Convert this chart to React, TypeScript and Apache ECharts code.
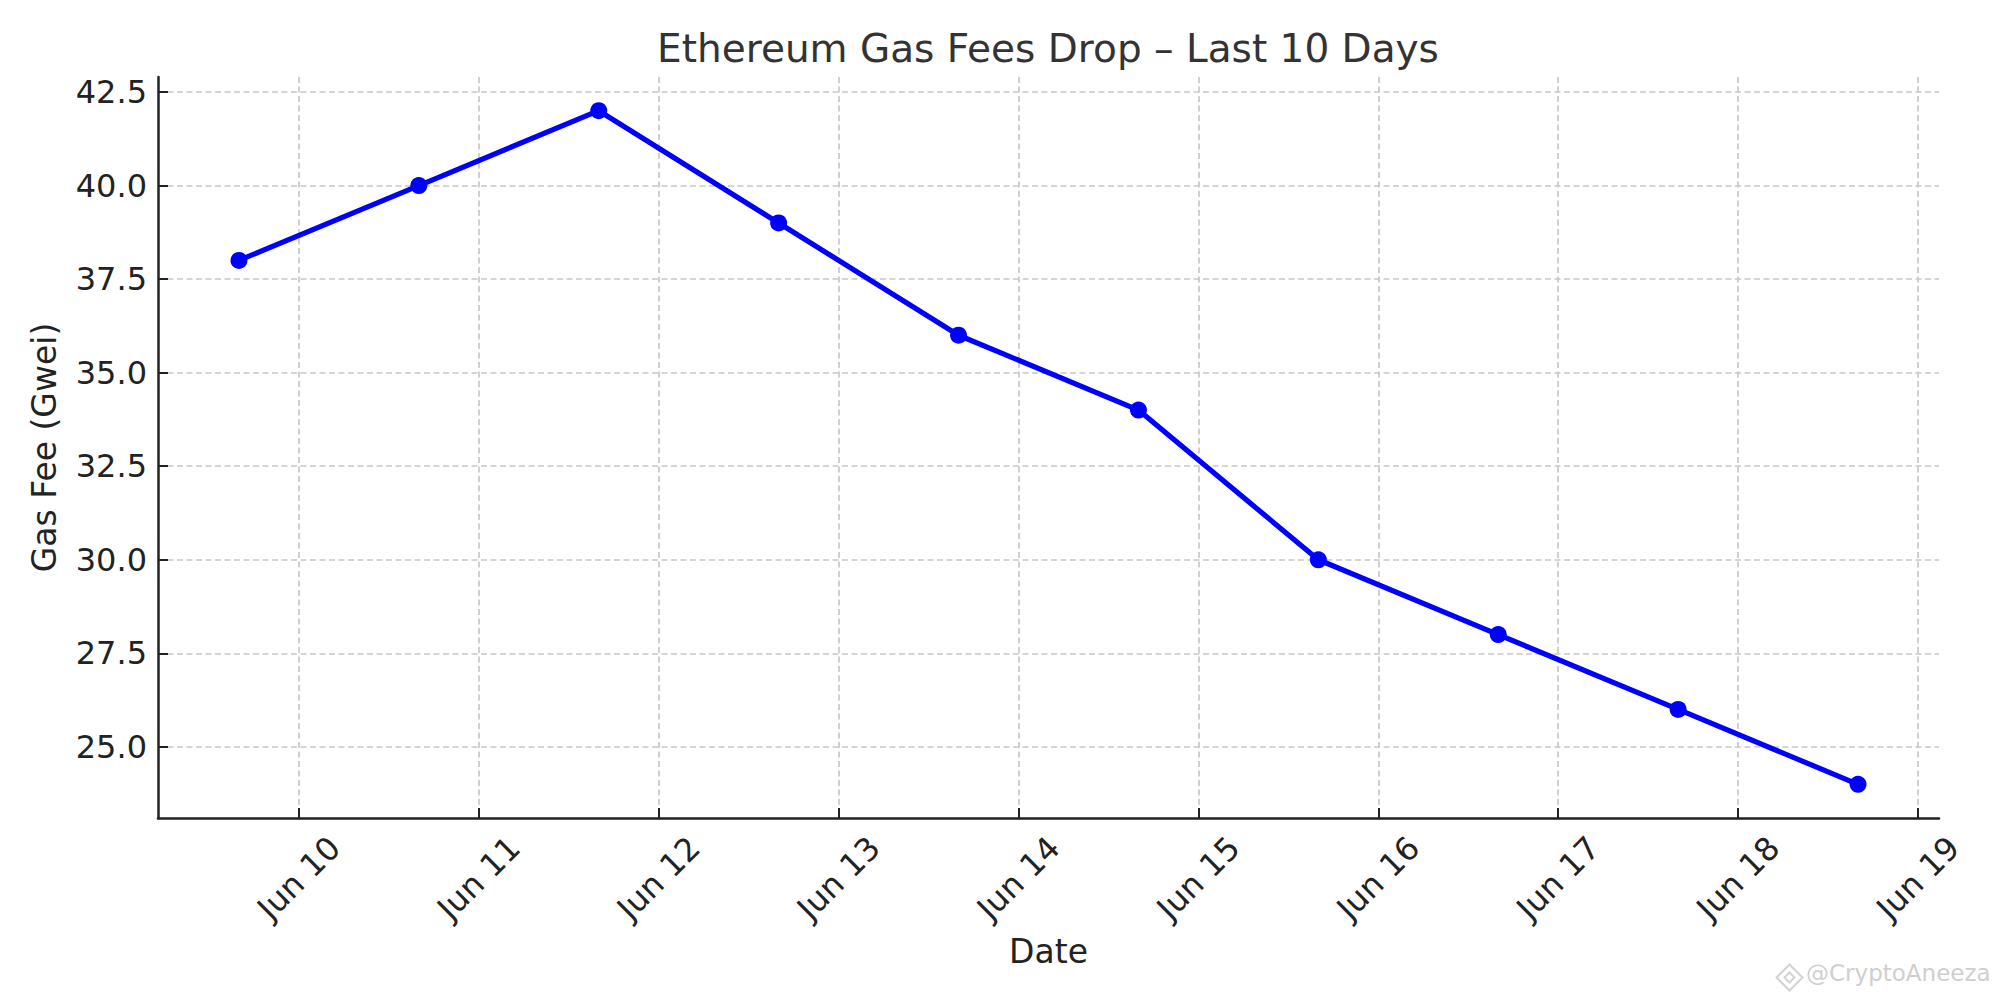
import React, { useEffect, useRef } from "react";
import * as echarts from "echarts";

const titleText = "Ethereum Gas Fees Drop – Last 10 Days";
const xAxisName = "Date";
const yAxisName = "Gas Fee (Gwei)";
const watermarkText = "@CryptoAneeza";

const dates = [
  "2025-06-09T16:00",
  "2025-06-10T16:00",
  "2025-06-11T16:00",
  "2025-06-12T16:00",
  "2025-06-13T16:00",
  "2025-06-14T16:00",
  "2025-06-15T16:00",
  "2025-06-16T16:00",
  "2025-06-17T16:00",
  "2025-06-18T16:00",
];
const gasFees = [38, 40, 42, 39, 36, 34, 30, 28, 26, 24];

const xTickDates = [
  "2025-06-10",
  "2025-06-11",
  "2025-06-12",
  "2025-06-13",
  "2025-06-14",
  "2025-06-15",
  "2025-06-16",
  "2025-06-17",
  "2025-06-18",
  "2025-06-19",
];
const yTicks = [25, 27.5, 30, 32.5, 35, 37.5, 40, 42.5];
const monthNames = ["Jan", "Feb", "Mar", "Apr", "May", "Jun", "Jul", "Aug", "Sep", "Oct", "Nov", "Dec"];

const toUTC = (s: string) => Date.parse(s.length === 10 ? s + "T00:00Z" : s + "Z");

const FONT = "DejaVu Sans";
const DAY = 86400000;
// x positions are expressed in days since this reference instant
const REF = toUTC("2025-06-01") - DAY;
const toDays = (s: string) => (toUTC(s) - REF) / DAY;

export default function App() {
  const ref = useRef<HTMLDivElement>(null);

  useEffect(() => {
    document.body.style.margin = "0";
    if (!ref.current) return;
    const chart = echarts.init(ref.current, undefined, { renderer: "svg" });

    const xs = dates.map(toDays);
    const xSpan = xs[xs.length - 1] - xs[0];
    const yMinD = Math.min(...gasFees);
    const yMaxD = Math.max(...gasFees);
    const ySpan = yMaxD - yMinD;

    const xTicks = xTickDates.map(toDays);
    const gridStyle = { color: "#c8c8c8", width: 1.7, type: [6, 3.5] };

    const option: any = {
      animation: false,
      backgroundColor: "#ffffff",
      title: {
        text: titleText,
        left: 1048,
        top: 29,
        padding: 0,
        textAlign: "center",
        textStyle: {
          fontFamily: FONT,
          fontSize: 39,
          fontWeight: "normal",
          color: "#333333",
        },
      },
      grid: {
        left: 158,
        right: 61,
        top: 77,
        bottom: 182,
        containLabel: false,
      },
      xAxis: {
        type: "value",
        min: xs[0] - xSpan * 0.05,
        max: xs[xs.length - 1] + xSpan * 0.05,
        name: xAxisName,
        nameLocation: "middle",
        nameGap: 117,
        nameTextStyle: { fontFamily: FONT, fontSize: 33, color: "#222222" },
        axisLine: { show: true, onZero: false, lineStyle: { color: "#222222", width: 2.5 } },
        axisTick: {
          show: true,
          inside: true,
          length: 10,
          customValues: xTicks,
          lineStyle: { color: "#222222", width: 2 },
        },
        axisLabel: {
          customValues: xTicks,
          rotate: 45,
          align: "center",
          verticalAlign: "middle",
          margin: 60,
          fontFamily: FONT,
          fontSize: 32,
          color: "#222222",
          showMinLabel: true,
          showMaxLabel: true,
          formatter: (v: number) => {
            const d = new Date(REF + Math.round(v) * DAY);
            return monthNames[d.getUTCMonth()] + " " + d.getUTCDate();
          },
        },
        splitLine: { show: true, lineStyle: gridStyle },
      },
      yAxis: {
        type: "value",
        min: yMinD - ySpan * 0.05,
        max: yMaxD + ySpan * 0.05,
        name: yAxisName,
        nameLocation: "middle",
        nameGap: 97,
        nameRotate: 90,
        nameTextStyle: { fontFamily: FONT, fontSize: 33, color: "#222222" },
        axisLine: { show: true, onZero: false, lineStyle: { color: "#222222", width: 2.5 } },
        axisTick: {
          show: true,
          inside: true,
          length: 10,
          customValues: yTicks,
          lineStyle: { color: "#222222", width: 2 },
        },
        axisLabel: {
          customValues: yTicks,
          margin: 11,
          fontFamily: FONT,
          fontSize: 32,
          color: "#222222",
          formatter: (v: number) => v.toFixed(1),
        },
        splitLine: { show: true, lineStyle: gridStyle },
      },
      series: [
        {
          type: "line",
          data: xs.map((x, i) => [x, gasFees[i]]),
          symbol: "circle",
          symbolSize: 17,
          showSymbol: true,
          lineStyle: { color: "#0000ff", width: 5.2 },
          itemStyle: { color: "#0000ff" },
          z: 5,
        },
      ],
      graphic: [
        {
          type: "group",
          left: 1774,
          top: 962,
          silent: true,
          children: [
            {
              type: "polygon",
              shape: { points: [[13, 0], [26, 13], [13, 26], [0, 13]] },
              style: { fill: "none", stroke: "#d4d4d4", lineWidth: 2 },
            },
            {
              type: "polygon",
              shape: { points: [[13, 8], [18, 13], [13, 18], [8, 13]] },
              style: { fill: "none", stroke: "#d4d4d4", lineWidth: 2 },
            },
          ],
        },
        {
          type: "text",
          left: 1806,
          top: 961,
          silent: true,
          style: {
            text: watermarkText,
            fontFamily: FONT,
            fontSize: 23,
            fill: "#cfcfcf",
          },
        },
      ],
    };

    chart.setOption(option);
    return () => {
      chart.dispose();
    };
  }, []);

  return <div ref={ref} style={{ width: 2000, height: 1000 }} />;
}
